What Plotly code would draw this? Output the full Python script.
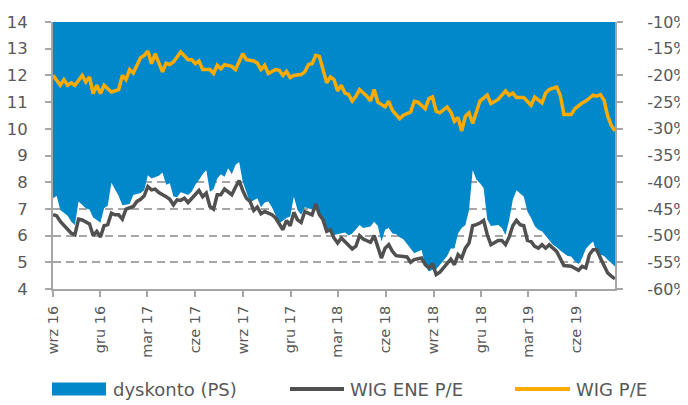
import pandas as pd
import plotly.graph_objects as go

START = "2016-09-02"  # weekly (Friday) data

# dyskonto (PS) - week index and value in %
disc_weeks = [0,1,2,4,5,6,7,9,10,11,12,13,14,15,16,17,18,19,21,22,23,24,25,26,27,29,30,31,32,33,34,35,36,37,38,39,40,41,42,43,44,45,46,47,48,49,50,51,52,53,54,56,57,58,59,60,61,62,64,65,66,67,68,69,71,72,73,74,75,76,77,78,80,81,82,83,84,85,86,87,88,89,90,91,92,93,94,95,96,98,99,100,101,102,103,104,105,106,108,109,110,111,112,113,114,115,116,117,118,119,120,122,123,124,125,126,127,128,129,130,131,132,133,134,136,137,138,139,141,142,143,144,145,146,147,148,149,151,152,153,154]
disc_vals = [-43.0,-42.6,-45.2,-46.3,-47.4,-48.0,-43.6,-44.9,-45.1,-46.6,-47.1,-47.6,-44.9,-44.4,-40.1,-41.3,-42.6,-44.3,-44.1,-42.4,-42.2,-42.0,-41.5,-38.7,-39.3,-38.8,-38.2,-40.5,-40.2,-42.7,-42.8,-41.9,-42.1,-42.4,-41.8,-40.5,-39.6,-38.5,-37.7,-41.8,-41.3,-39.3,-38.5,-39.0,-37.4,-38.5,-36.8,-36.2,-39.9,-41.8,-43.8,-43.0,-44.7,-43.8,-43.6,-44.7,-46.1,-47.7,-46.7,-46.4,-42.7,-45.2,-46.1,-44.7,-45.1,-44.6,-46.1,-47.2,-48.9,-49.2,-49.9,-49.7,-49.4,-50.0,-49.6,-48.8,-48.0,-48.6,-48.4,-48.3,-47.4,-48.2,-51.1,-48.9,-48.6,-49.6,-49.7,-50.3,-50.7,-52.4,-53.3,-53.0,-52.7,-55.5,-56.7,-56.4,-56.3,-55.5,-53.8,-52.4,-52.4,-49.6,-48.6,-48.0,-45.2,-37.7,-39.5,-40.2,-41.1,-47.0,-48.2,-48.0,-48.6,-49.9,-47.1,-43.3,-41.5,-42.1,-42.7,-45.5,-46.7,-48.2,-48.9,-49.2,-50.8,-51.7,-52.2,-52.8,-53.8,-53.9,-54.8,-55.3,-54.2,-52.5,-51.7,-51.1,-53.3,-53.8,-54.5,-55.2,-55.8]

# WIG ENE P/E
ene_weeks = [0,1,2,4,5,6,7,8,10,11,12,13,14,15,16,17,18,19,20,22,23,24,25,26,27,28,29,31,32,33,34,35,36,37,39,40,41,42,43,44,45,46,47,49,50,51,52,53,54,55,56,57,58,59,60,61,63,64,65,66,67,68,69,71,72,73,74,75,76,77,78,79,81,82,83,84,85,87,88,89,90,91,92,93,94,96,97,98,99,101,102,103,104,105,106,107,109,110,111,112,113,114,115,116,117,118,119,120,121,122,123,124,125,126,127,128,129,130,131,132,133,134,135,136,137,138,140,141,142,144,145,146,147,148,149,150,151,152,153,154]
ene_vals = [6.78,6.74,6.53,6.22,6.09,6.03,6.62,6.59,6.44,6.0,6.16,5.95,6.37,6.41,6.84,6.78,6.78,6.62,6.99,7.09,7.28,7.36,7.49,7.84,7.71,7.74,7.61,7.46,7.36,7.15,7.34,7.32,7.4,7.24,7.55,7.69,7.46,7.59,7.09,6.99,7.53,7.53,7.74,7.53,7.81,8.06,7.69,7.4,7.28,6.94,7.07,6.82,6.9,6.84,6.78,6.66,6.22,6.57,6.37,6.87,6.59,6.49,6.9,6.78,7.19,6.78,6.59,6.16,6.22,5.91,5.72,5.91,5.62,5.5,5.6,6.0,5.87,5.75,6.0,5.6,5.16,5.53,5.66,5.41,5.25,5.22,5.2,5.0,5.1,5.16,4.91,4.79,4.95,4.54,4.63,4.79,5.12,4.91,5.29,5.16,5.53,5.72,6.37,6.41,6.47,6.57,6.03,5.66,5.75,5.82,5.82,5.66,5.95,6.37,6.57,6.41,6.37,5.82,5.78,5.6,5.53,5.66,5.53,5.66,5.53,5.41,4.88,4.85,4.85,4.7,4.85,4.79,5.29,5.47,5.47,5.16,4.85,4.6,4.48,4.38]

# WIG P/E
wig_weeks = [0,2,3,4,5,6,8,9,10,11,12,13,14,15,16,18,19,20,21,22,24,25,26,27,28,30,31,32,33,35,36,37,38,39,40,41,43,44,45,46,47,49,50,51,52,53,55,56,57,58,59,61,62,63,64,65,66,68,69,70,71,72,73,75,76,77,78,79,80,81,82,83,84,86,87,88,89,91,92,93,95,96,98,99,100,102,103,104,105,106,108,109,110,111,112,113,114,115,117,119,120,122,124,125,126,127,129,131,132,134,135,136,138,139,140,142,143,145,146,148,149,150,151,152,153,154]
wig_vals = [12.0,11.63,11.84,11.63,11.72,11.63,12.0,11.75,11.94,11.32,11.63,11.32,11.63,11.5,11.38,11.47,12.0,11.84,12.22,12.09,12.66,12.75,12.91,12.44,12.81,12.13,12.46,12.41,12.5,12.88,12.75,12.59,12.59,12.44,12.54,12.22,12.22,12.07,12.38,12.25,12.4,12.34,12.22,12.5,12.81,12.59,12.54,12.46,12.22,12.38,12.07,12.22,12.19,12.0,12.15,11.92,12.0,12.03,12.13,12.41,12.44,12.75,12.71,11.72,11.94,11.84,11.42,11.63,11.34,11.29,11.04,11.22,11.47,11.22,11.04,11.47,11.0,10.82,11.03,10.69,10.38,10.51,10.63,11.03,11.0,10.75,11.13,11.19,10.66,10.6,10.82,10.63,10.28,10.42,9.92,10.47,10.6,10.2,11.04,11.26,10.95,11.1,11.42,11.26,11.34,11.17,11.17,10.88,11.19,10.97,11.34,11.47,11.57,11.26,10.54,10.54,10.75,10.97,11.04,11.26,11.22,11.28,11.07,10.47,10.13,9.92]

tick_dates = ["2016-09-02","2016-12-02","2017-03-02","2017-06-02","2017-09-02","2017-12-02",
              "2018-03-02","2018-06-02","2018-09-02","2018-12-02","2019-03-02","2019-06-02"]
tick_labels = ["wrz 16","gru 16","mar 17","cze 17","wrz 17","gru 17",
               "mar 18","cze 18","wrz 18","gru 18","mar 19","cze 19"]
pct_ticks = [-60,-55,-50,-45,-40,-35,-30,-25,-20,-15,-10]
pct_labels = ["-60%","-55%","-50%","-45%","-40%","-35%","-30%","-25%","-20%","-15%","-10%"]
legend_names = ["dyskonto (PS)", "WIG ENE P/E", "WIG P/E"]

BLUE = "#0088CB"
GRAY = "#505050"
ORANGE = "#FFAA00"
TXT = "#595959"
AX = "#A6A6A6"
FONT = "DejaVu Sans"

start = pd.Timestamp(START)
def to_dates(weeks):
    return [start + pd.Timedelta(days=7 * w) for w in weeks]

fig = go.Figure()
fig.add_trace(go.Scatter(x=to_dates(disc_weeks), y=disc_vals, yaxis="y", mode="lines",
                         line=dict(width=0, color=BLUE), fill="tozeroy", fillcolor=BLUE,
                         name=legend_names[0], showlegend=False))
fig.add_trace(go.Scatter(x=to_dates(ene_weeks), y=ene_vals, yaxis="y2", mode="lines",
                         line=dict(width=3.5, color=GRAY), name=legend_names[1], showlegend=False))
fig.add_trace(go.Scatter(x=to_dates(wig_weeks), y=wig_vals, yaxis="y2", mode="lines",
                         line=dict(width=3.5, color=ORANGE), name=legend_names[2], showlegend=False))

# page body has an 8px default margin -> compensate
OFF = 8
W, H = 688 - OFF, 405 - OFF
# target plot area on screen: x 53..615, y 22..289
SX0, SX1, SY0, SY1 = 53, 615, 22, 289
ML, MT = SX0 - OFF, SY0 - OFF
PW, PH = SX1 - SX0, SY1 - SY0
MR, MB = W - ML - PW, H - MT - PH

def px(xs):
    return (xs - SX0) / PW
def py(ys):
    return (SY1 - ys) / PH

fig.update_layout(
    width=W, height=H,
    margin=dict(l=ML, r=MR, t=MT, b=MB, autoexpand=False),
    plot_bgcolor="white", paper_bgcolor="white",
    font=dict(family=FONT, size=16, color=TXT),
    showlegend=False,
    xaxis=dict(type="date", range=[start, start + pd.Timedelta(days=7 * 154)],
               tickvals=tick_dates, ticktext=tick_labels, tickangle=-90, automargin=False,
               showgrid=False, showline=True, linecolor=AX, linewidth=2,
               ticks="outside", ticklen=6, tickwidth=2, tickcolor=AX,
               tickfont=dict(size=14.5, color=TXT), ticklabelstandoff=3),
    yaxis=dict(side="right", range=[-60, -10], tickvals=pct_ticks, ticktext=pct_labels,
               automargin=False,
               showgrid=True, gridcolor=AX, gridwidth=1.5, griddash="8px,5px",
               showline=True, linecolor=AX, linewidth=2, zeroline=False,
               ticks="outside", ticklen=6, tickwidth=2, tickcolor=AX,
               tickfont=dict(size=16, color=TXT), ticklabelstandoff=21),
    yaxis2=dict(overlaying="y", side="left", range=[4, 14], dtick=1, automargin=False,
                showgrid=False, zeroline=False,
                showline=True, linecolor=AX, linewidth=2,
                ticks="outside", ticklen=6, tickwidth=2, tickcolor=AX,
                tickfont=dict(size=16.5, color=TXT), ticklabelstandoff=14),
)

# manual legend (screen pixel targets)
ly = 389
fig.add_shape(type="rect", xref="paper", yref="paper", x0=px(52), x1=px(106),
              y0=py(ly + 6.5), y1=py(ly - 6.5), fillcolor=BLUE, line=dict(width=0))
fig.add_shape(type="line", xref="paper", yref="paper", x0=px(290), x1=px(344),
              y0=py(ly), y1=py(ly), line=dict(color=GRAY, width=4))
fig.add_shape(type="line", xref="paper", yref="paper", x0=px(515), x1=px(570),
              y0=py(ly), y1=py(ly), line=dict(color=ORANGE, width=4))
for xs, name in zip([111, 348, 574], legend_names):
    fig.add_annotation(xref="paper", yref="paper", x=px(xs), y=py(ly), text=name,
                       showarrow=False, xanchor="left", yanchor="middle",
                       font=dict(family=FONT, size=18, color=TXT))

fig.write_html("out.html")
